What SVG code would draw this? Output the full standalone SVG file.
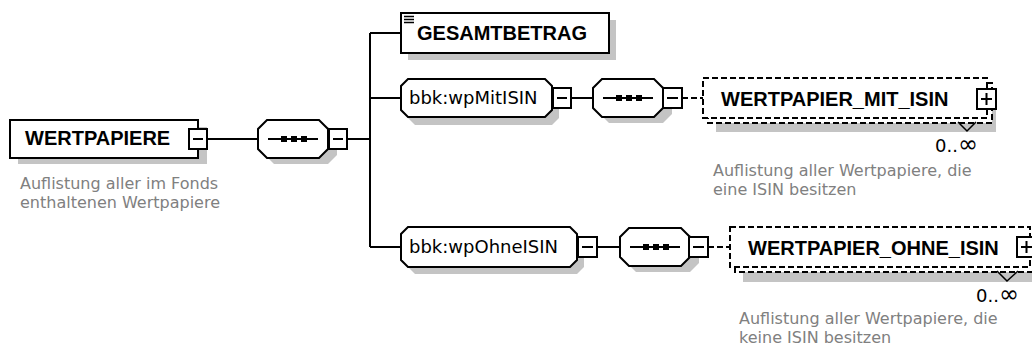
<svg xmlns="http://www.w3.org/2000/svg" width="1032" height="354" viewBox="0 0 1032 354">
<style>
.box{fill:#fff;stroke:#000;stroke-width:2}
.dbox{fill:#fff;stroke:#000;stroke-width:2;stroke-dasharray:6 3}
.sh{fill:#c4c4c4;stroke:none}
.btn{fill:#fff;stroke:#000;stroke-width:2}
.sign{stroke:#000;stroke-width:2;fill:none}
.ln{stroke:#000;stroke-width:2;fill:none}
.dl{stroke:#000;stroke-width:2;fill:none;stroke-dasharray:6 3}
.name{font-family:"Liberation Sans",Arial,sans-serif;font-weight:bold;font-size:20px;fill:#000}
.ref{font-family:"DejaVu Sans",sans-serif;font-size:18px;fill:#000}
.desc{font-family:"DejaVu Sans",sans-serif;font-size:16px;fill:#808080}
.mult{font-family:"DejaVu Sans",sans-serif;font-size:18px;fill:#000}
.inf{font-size:24px}
</style>
<rect width="1032" height="354" fill="#fff"/>
<g id="connectors">
<path class="ln" d="M207 139 H258"/>
<path class="ln" d="M347 139 H370"/>
<path class="ln" d="M370 33 V247"/>
<path class="ln" d="M370 33 H401"/>
<path class="ln" d="M370 98 H401"/>
<path class="ln" d="M370 247 H401"/>
<path class="ln" d="M571 98 H593"/>
<path class="dl" d="M682 98 H703"/>
<path class="ln" d="M597 247 H620"/>
<path class="dl" d="M708 247 H730"/>
</g>
<g id="WERTPAPIERE">
<rect class="sh" x="18" y="127" width="189" height="37"/>
<rect class="box" x="10" y="120" width="188" height="38"/>
<text class="name" x="25" y="145">WERTPAPIERE</text>
<rect class="btn" x="189" y="129" width="18" height="20"/>
<path class="sign" d="M193 139 H203"/>
<text class="desc" x="20" y="189">Auflistung aller im Fonds</text>
<text class="desc" x="20" y="208">enthaltenen Wertpapiere</text>
</g>
<g id="seq1">
<path class="sh" d="M274 127 H328 L337 136 V155 L328 164 H274 L265 155 V136 Z"/>
<path class="box" d="M267 120 H319 L328 129 V149 L319 158 H267 L258 149 V129 Z"/>
<path class="ln" d="M268 139 H318"/>
<rect x="281" y="136" width="6" height="6"/><rect x="291" y="136" width="6" height="6"/><rect x="301" y="136" width="6" height="6"/>
<rect class="btn" x="329" y="129" width="18" height="20"/>
<path class="sign" d="M333 139 H343"/>
</g>
<g id="GESAMTBETRAG">
<rect class="sh" x="408" y="20" width="208" height="40"/>
<rect class="box" x="401" y="13" width="208" height="40"/>
<path class="ln" d="M404 16.5 H414 M404 19.5 H414 M404 22.5 H414" style="stroke-width:1.5"/>
<text class="name" x="417" y="40">GESAMTBETRAG</text>
</g>
<g id="wpMitISIN">
<path class="sh" d="M415 86 H552 L559 93 V118 L552 125 H415 L408 118 V93 Z"/>
<path class="box" d="M408 79 H545 L552 86 V110 L545 117 H408 L401 110 V86 Z"/>
<text class="ref" x="409" y="104">bbk:wpMitISIN</text>
<rect class="btn" x="553" y="88" width="18" height="20"/>
<path class="sign" d="M557 98 H567"/>
</g>
<g id="seq2">
<path class="sh" d="M609 86 H663 L672 95 V114 L663 123 H609 L600 114 V95 Z"/>
<path class="box" d="M602 79 H654 L663 88 V108 L654 117 H602 L593 108 V88 Z"/>
<path class="ln" d="M603 98 H653"/>
<rect x="616" y="95" width="6" height="6"/><rect x="626" y="95" width="6" height="6"/><rect x="636" y="95" width="6" height="6"/>
<rect class="btn" x="663" y="88" width="19" height="20"/>
<path class="sign" d="M667 98 H678"/>
</g>
<g id="WERTPAPIER_MIT_ISIN">
<rect class="sh" x="716" y="91" width="280" height="41"/>
<rect class="dbox" x="708" y="83" width="284" height="40"/>
<rect class="dbox" x="703" y="78" width="284" height="40"/>
<text class="name" x="721" y="106">WERTPAPIER_MIT_ISIN</text>
<rect class="btn" x="977" y="89" width="19" height="20"/>
<path class="sign" d="M981 99 H992 M986.5 93 V105"/>
<path class="ln" d="M958 122 L967 131 L976 122" style="stroke-width:1.5"/>
<text class="mult" x="978" y="152" text-anchor="end">0..<tspan class="inf">∞</tspan></text>
<text class="desc" x="713" y="176">Auflistung aller Wertpapiere, die</text>
<text class="desc" x="713" y="195">eine ISIN besitzen</text>
</g>
<g id="wpOhneISIN">
<path class="sh" d="M415 234 H577 L584 241 V267 L577 274 H415 L408 267 V241 Z"/>
<path class="box" d="M408 227 H570 L577 234 V260 L570 267 H408 L401 260 V234 Z"/>
<text class="ref" x="409" y="253">bbk:wpOhneISIN</text>
<rect class="btn" x="578" y="237" width="19" height="20"/>
<path class="sign" d="M582 247 H593"/>
</g>
<g id="seq3">
<path class="sh" d="M636 235 H690 L699 244 V263 L690 272 H636 L627 263 V244 Z"/>
<path class="box" d="M629 228 H681 L690 237 V257 L681 266 H629 L620 257 V237 Z"/>
<path class="ln" d="M630 247 H680"/>
<rect x="643" y="244" width="6" height="6"/><rect x="653" y="244" width="6" height="6"/><rect x="663" y="244" width="6" height="6"/>
<rect class="btn" x="689" y="237" width="19" height="20"/>
<path class="sign" d="M693 247 H704"/>
</g>
<g id="WERTPAPIER_OHNE_ISIN">
<rect class="sh" x="743" y="241" width="300" height="41"/>
<rect class="dbox" x="735" y="232" width="300" height="40"/>
<rect class="dbox" x="730" y="227" width="300" height="40"/>
<text class="name" x="748" y="255">WERTPAPIER_OHNE_ISIN</text>
<rect class="btn" x="1017" y="237" width="19" height="20"/>
<path class="sign" d="M1021 247 H1032 M1026.5 241 V253"/>
<path class="ln" d="M997 271 L1007 281 L1018 271" style="stroke-width:1.5"/>
<text class="mult" x="1019" y="302" text-anchor="end">0..<tspan class="inf">∞</tspan></text>
<text class="desc" x="739" y="324">Auflistung aller Wertpapiere, die</text>
<text class="desc" x="739" y="343">keine ISIN besitzen</text>
</g>
</svg>
